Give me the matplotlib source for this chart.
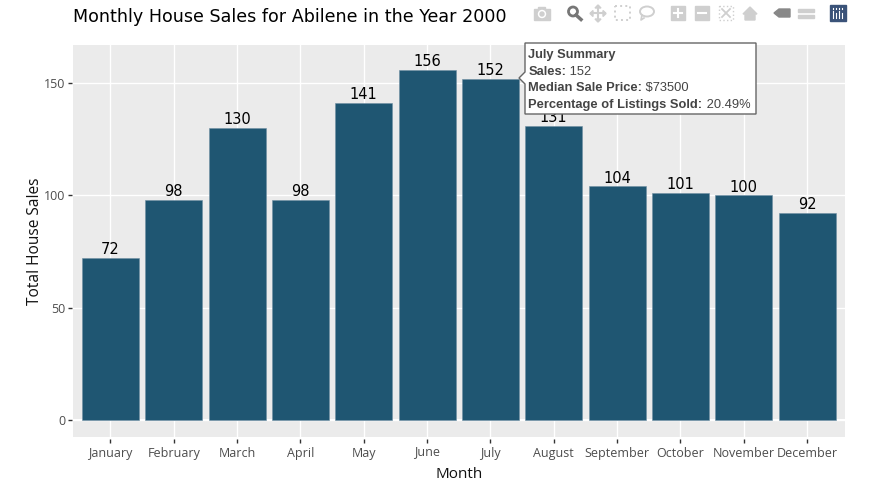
import matplotlib
matplotlib.use("Agg")
import matplotlib.pyplot as plt
from matplotlib.patches import Rectangle, Polygon, Circle, Ellipse

months = ["January", "February", "March", "April", "May", "June", "July",
          "August", "September", "October", "November", "December"]
sales = [72, 98, 130, 98, 141, 156, 152, 131, 104, 101, 100, 92]
yticks = [0, 50, 100, 150]

W, H = 874, 486
fig = plt.figure(figsize=(W / 100, H / 100), dpi=100)
ax = fig.add_axes([73 / W, 1 - 437 / H, 772 / W, 392 / H])
ax.set_facecolor("#ebebeb")
ax.bar(range(12), sales, width=0.9, color="#1f5672", edgecolor="#6f8fa3", linewidth=0.4, zorder=3)
ax.set_xlim(-0.59, 11.6)
ax.set_ylim(-7.6, 167)
ax.grid(color="white", linewidth=1, zorder=0)
ax.axhline(0, color="white", linewidth=1.5, zorder=1)
for s in ax.spines.values():
    s.set_visible(False)
# ticks sit a little off the panel
ax.spines["bottom"].set_position(("outward", 1.5))
ax.spines["left"].set_position(("outward", 0.7))
ax.set_xticks(range(12))
ax.set_xticklabels(months, family="Open Sans", fontsize=9, color="#4d4d4d", va="baseline")
ax.set_yticks(yticks)
ax.set_yticklabels(yticks, family="Open Sans", fontsize=9, color="#4d4d4d")
ax.tick_params(axis="x", length=3, width=1, color="#333333", pad=9.7)
ax.tick_params(axis="y", length=3, width=1, color="#333333", pad=2)
# June sits low otherwise, J descends further than the other labels
ax.get_xticklabels()[5].set_y(0.005)
ax.set_xlabel("Month", family="Open Sans", fontsize=11, color="#111111", labelpad=5.4)
ax.set_ylabel("Total House Sales", family="Open Sans", fontsize=11.2, color="#111111", labelpad=0.5)

for i, v in enumerate(sales):
    ax.text(i, v + 0.4, str(v), ha="center", va="bottom", fontsize=10.5, color="black", zorder=4)

fig.text(73 / W, 1 - 17.5 / H, "Monthly House Sales for Abilene in the Year 2000",
         fontsize=12.65, color="black", va="center", ha="left")

# overlay in pixel coords for tooltip and modebar
ov = fig.add_axes([0, 0, 1, 1], facecolor="none")
ov.set_xlim(0, W)
ov.set_ylim(H, 0)
ov.axis("off")

# tooltip
ov.add_patch(Polygon([(519, 78), (525, 72), (525, 43), (756, 43), (756, 114), (525, 114), (525, 84)],
                     closed=True, facecolor="white", edgecolor="#666666", linewidth=1, zorder=10))
tip = [("July Summary", ""), ("Sales:", " 152"), ("Median Sale Price:", " $73500"),
       ("Percentage of Listings Sold:", " 20.49%")]
r = fig.canvas.get_renderer()
for k, (b, n) in enumerate(tip):
    t = ov.text(528.5, 55 + k * 16.7, b, family="Liberation Sans", weight="bold", fontsize=9.3,
                color="#444444", va="center", zorder=11)
    if n:
        w = t.get_window_extent(r).width
        ov.text(528.5 + w, 55 + k * 16.7, n, family="Liberation Sans", fontsize=9.3,
                color="#444444", va="center", zorder=11)

# modebar icons
g = "#cfcfcf"
ov.add_patch(Rectangle((534, 9), 16, 11, color=g))
ov.add_patch(Rectangle((538, 7), 7, 3, color=g))
ov.add_patch(Circle((542, 14), 3.5, color="white"))
ov.add_patch(Circle((542, 14), 2, color=g))
ov.add_patch(Circle((573, 11.5), 4.5, fill=False, edgecolor="#777777", linewidth=2))
ov.plot([576, 581], [15, 19.5], color="#777777", linewidth=2.5)
ov.plot([591, 605], [13.5, 13.5], color=g, linewidth=1.5)
ov.plot([598, 598], [6, 21], color=g, linewidth=1.5)
for p in ([(590, 13.5), (593, 10.5), (593, 16.5)], [(606, 13.5), (603, 10.5), (603, 16.5)],
          [(598, 5), (595, 8), (601, 8)], [(598, 22), (595, 19), (601, 19)]):
    ov.add_patch(Polygon(p, color=g))
ov.add_patch(Rectangle((614.5, 6.5), 15, 14, fill=False, edgecolor=g, linewidth=1.4, linestyle=":"))
ov.add_patch(Ellipse((647, 11.5), 14, 10, fill=False, edgecolor=g, linewidth=1.4))
ov.plot([642, 641, 644], [15, 20, 18], color=g, linewidth=1.2)
ov.add_patch(Rectangle((671, 6), 14, 14, color=g))
ov.plot([674, 682], [13, 13], color="white", linewidth=1.5)
ov.plot([678, 678], [9, 17], color="white", linewidth=1.5)
ov.add_patch(Rectangle((695, 6), 14, 14, color=g))
ov.plot([698, 706], [13, 13], color="white", linewidth=1.5)
ov.add_patch(Rectangle((719, 6), 14, 14, fill=False, edgecolor=g, linewidth=1, linestyle=":"))
ov.plot([722, 730], [9, 17], color=g, linewidth=1.3)
ov.plot([730, 722], [9, 17], color=g, linewidth=1.3)
ov.add_patch(Polygon([(743, 14), (750, 7), (757, 14), (755, 14), (755, 20), (745, 20), (745, 14)], color=g))
ov.add_patch(Polygon([(774, 13), (779, 9), (790, 9), (790, 17), (779, 17)], color="#888888"))
ov.add_patch(Polygon([(798, 9), (814, 9), (814, 12), (798, 12)], color=g))
ov.add_patch(Polygon([(798, 15), (814, 15), (814, 18), (798, 18)], color=g))
ov.add_patch(Rectangle((830, 5), 16, 16, color="#3b5379"))
for x0, h0 in zip([833, 836, 839, 842], [7, 5, 7, 5]):
    ov.plot([x0, x0], [18, 18 - h0], color="white", linewidth=0.8)
    ov.plot([x0, x0], [8, 9], color="white", linewidth=0.8)

fig.savefig("out.png", dpi=100)
